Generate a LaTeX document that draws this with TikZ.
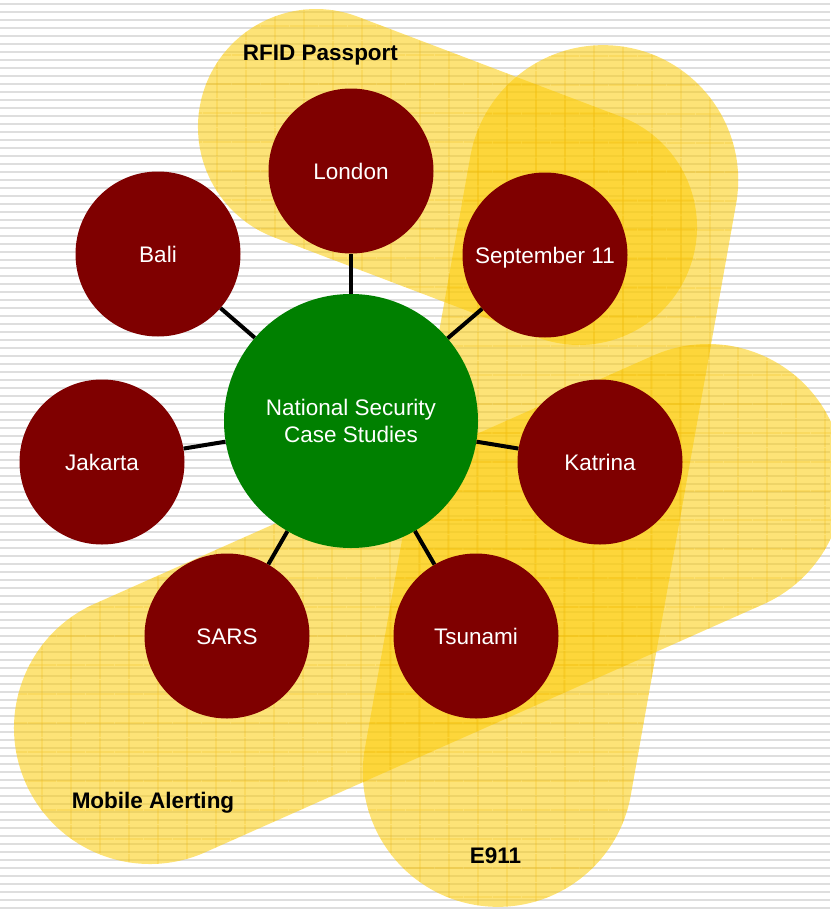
\documentclass[tikz,border=0pt]{standalone}
\usepackage{fontspec}
\setmainfont{Liberation Sans}
\usetikzlibrary{patterns.meta}

\definecolor{casered}{RGB}{127,0,0}
\definecolor{hubgreen}{RGB}{0,128,0}
\definecolor{zonegold}{RGB}{252,204,8}
\definecolor{zoneline}{RGB}{238,178,0}
\definecolor{stripegray}{RGB}{222,222,222}

\tikzdeclarepattern{
	name=zonegrid,
	type=uncolored,
	bounding box={(0pt,0pt) and (29pt,29pt)},
	tile size={(29pt,29pt)},
	code={
		\draw[line width=0.8pt] (0pt,14.5pt) -- (29pt,14.5pt);
		\draw[line width=0.8pt] (14.5pt,0pt) -- (14.5pt,29pt);
	}
}

\tikzset{
	case/.style={circle, fill=casered, minimum size=165pt, inner sep=0pt, text=white, text height=16pt, text depth=0pt},
	hub/.style={circle, fill=hubgreen, minimum size=254pt, inner sep=0pt, text=white, align=center},
	zone/.style={fill=zonegold, fill opacity=0.55, postaction={pattern=zonegrid, pattern color=zoneline}},
	zonelabel/.style={font=\fontsize{22.5}{27}\selectfont\bfseries, anchor=base},
	spoke/.style={line width=4pt},
	stripe/.style={draw=stripegray, line width=2.5pt}
}

\begin{document}
\begin{tikzpicture}[x=1pt, y=-1pt, font=\fontsize{22.5}{27}\selectfont]
	\useasboundingbox (0,0) rectangle (830,910);

	\coordinate (L) at (351,171);
	\coordinate (B) at (158,254);
	\coordinate (S) at (545,255);
	\coordinate (J) at (102,462);
	\coordinate (K) at (600,462);
	\coordinate (Sa) at (227,636);
	\coordinate (T) at (476,636);
	\coordinate (H) at (351,421);

	% Draw the striped backdrop
	\foreach \y in {4,12,...,908}
		\draw[stripe] (0,\y) -- (830,\y);

	% Draw the three overlapping zones
	\path[zone, shift={(447.5,177)}, rotate=-20.8] (-140.7,118) arc[start angle=90, end angle=270, radius=118] -- (140.7,-118) arc[start angle=-90, end angle=90, radius=118] -- cycle;
	\path[zone, shift={(550.5,476)}, rotate=-100.1] (-300.5,135) arc[start angle=90, end angle=270, radius=135] -- (300.5,-135) arc[start angle=-90, end angle=90, radius=135] -- cycle;
	\path[zone, shift={(429,604)}, rotate=23.96] (-305.3,136) arc[start angle=90, end angle=270, radius=136] -- (305.3,-136) arc[start angle=-90, end angle=90, radius=136] -- cycle;

	\node[zonelabel] (rfid) at (320.5,60) {RFID Passport};
	\node[zonelabel] (mobile) at (153,808) {Mobile Alerting};
	\node[zonelabel] (e911) at (495.5,863) {E911};

	% Draw the case studies round the hub
	\node[hub] (hub) at (H) {National Security\\Case Studies};
	\node[case] (london) at (L) {London};
	\node[case] (bali) at (B) {Bali};
	\node[case] (sept) at (S) {September 11};
	\node[case] (jakarta) at (J) {Jakarta};
	\node[case] (katrina) at (K) {Katrina};
	\node[case] (sars) at (Sa) {SARS};
	\node[case] (tsunami) at (T) {Tsunami};

	\foreach \c in {london,bali,sept,jakarta,katrina,sars,tsunami}
		\draw[spoke] (hub) -- (\c);
\end{tikzpicture}
\end{document}
